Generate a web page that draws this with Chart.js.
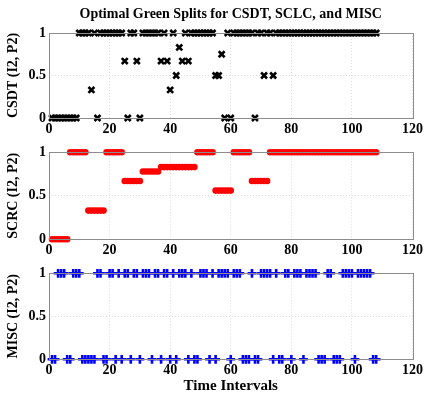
<!DOCTYPE html>
<html>
<head>
<meta charset="utf-8">
<script src="https://cdn.jsdelivr.net/npm/chart.js@4/dist/chart.umd.min.js"></script>
<style>
  html, body { margin: 0; padding: 0; background: #fff; }
  body { width: 426px; height: 397px; position: relative; overflow: hidden; }
  .box { position: absolute; left: 0; width: 426px; }
</style>
</head>
<body>
<div class="box" style="top:0;height:140px"><canvas id="csdtChart"></canvas></div>
<div class="box" style="top:140px;height:120px"><canvas id="scrcChart"></canvas></div>
<div class="box" style="top:260px;height:137px"><canvas id="miscChart"></canvas></div>
<script>
// time intervals 1..108
const intervals = Array.from({ length: 108 }, (_, i) => i + 1);

const csdt = [
  0, 0, 0, 0, 0, 0, 0, 0, 0, 1,
  1, 1, 1, 0.33, 1, 0, 1, 1, 1, 1,
  1, 1, 1, 1, 0.67, 0, 1, 1, 0.67, 0,
  1, 1, 1, 1, 1, 1, 0.67, 1, 0.67, 0.33,
  1, 0.5, 0.83, 0.67, 1, 0.67, 1, 1, 1, 1,
  1, 1, 1, 1, 0.5, 0.5, 0.75, 0, 1, 0,
  1, 1, 1, 1, 1, 1, 1, 0, 1, 1,
  0.5, 1, 1, 0.5, 1, 1, 1, 1, 1, 1,
  1, 1, 1, 1, 1, 1, 1, 1, 1, 1,
  1, 1, 1, 1, 1, 1, 1, 1, 1, 1,
  1, 1, 1, 1, 1, 1, 1, 1
];

const scrc = [
  0, 0, 0, 0, 0, 0, 1, 1, 1, 1,
  1, 1, 0.33, 0.33, 0.33, 0.33, 0.33, 0.33, 1, 1,
  1, 1, 1, 1, 0.67, 0.67, 0.67, 0.67, 0.67, 0.67,
  0.78, 0.78, 0.78, 0.78, 0.78, 0.78, 0.83, 0.83, 0.83, 0.83,
  0.83, 0.83, 0.83, 0.83, 0.83, 0.83, 0.83, 0.83, 1, 1,
  1, 1, 1, 1, 0.56, 0.56, 0.56, 0.56, 0.56, 0.56,
  1, 1, 1, 1, 1, 1, 0.67, 0.67, 0.67, 0.67,
  0.67, 0.67, 1, 1, 1, 1, 1, 1, 1, 1,
  1, 1, 1, 1, 1, 1, 1, 1, 1, 1,
  1, 1, 1, 1, 1, 1, 1, 1, 1, 1,
  1, 1, 1, 1, 1, 1, 1, 1
];

const misc = [
  0, 0, 1, 1, 1, 0, 0, 1, 1, 1,
  0, 0, 0, 0, 0, 1, 1, 0, 0, 1,
  1, 0, 1, 0, 1, 1, 0, 1, 1, 0,
  1, 1, 1, 0, 1, 1, 0, 1, 1, 0,
  1, 0, 1, 1, 1, 0, 1, 0, 0, 1,
  1, 1, 0, 1, 0, 1, 1, 1, 1, 0,
  1, 1, 1, 0, 0, 0, 1, 0, 0, 1,
  1, 1, 1, 0, 1, 0, 0, 1, 1, 0,
  1, 1, 1, 0, 1, 1, 1, 1, 0, 0,
  0, 1, 1, 0, 0, 0, 1, 1, 1, 1,
  0, 1, 1, 1, 1, 1, 0, 0
];

const xTicks = [0, 20, 40, 60, 80, 100, 120];
const yTicks = [0, 0.5, 1];

const serif = 'Liberation Serif';
const tickFont = { family: serif, size: 14, weight: 'bold' };

// matlab style box round the plot area
const boxPlugin = {
  id: 'box',
  afterDraw(chart) {
    const a = chart.chartArea, ctx = chart.ctx;
    ctx.save();
    ctx.strokeStyle = '#8c8c8c';
    ctx.lineWidth = 1;
    ctx.strokeRect(Math.round(a.left) + 0.5, Math.round(a.top) + 0.5,
      Math.round(a.right - a.left), Math.round(a.bottom - a.top));
    ctx.restore();
  }
};

function makeChart(id, values, yLabel, ds, opts) {
  const xScale = {
    type: 'linear', min: 0, max: 120,
    afterBuildTicks: s => { s.ticks = xTicks.map(v => ({ value: v })); },
    afterFit: s => { s.height = opts.xHeight; },
    ticks: { color: '#000', font: tickFont, padding: 3, maxRotation: 0, callback: v => String(v) },
    grid: { color: '#dcdcdc', drawTicks: false },
    border: { display: false, dash: [1, 2] },
    title: opts.xTitle ? {
      display: true, text: opts.xTitle, color: '#000',
      font: { family: serif, size: 15, weight: 'bold' }, padding: { top: 0, bottom: 2 }
    } : { display: false }
  };
  const yScale = {
    min: 0, max: 1,
    afterBuildTicks: s => { s.ticks = yTicks.map(v => ({ value: v })); },
    afterFit: s => { s.width = 49; },
    ticks: { color: '#000', font: tickFont, padding: 3, callback: v => String(v) },
    grid: { color: '#dcdcdc', drawTicks: false },
    border: { display: false, dash: [1, 2] },
    title: {
      display: true, text: yLabel, color: '#000',
      font: { family: serif, size: 14, weight: 'bold' }, padding: { top: 5, bottom: 0 }
    }
  };
  return new Chart(document.getElementById(id), {
    type: 'scatter',
    data: {
      datasets: [Object.assign({
        data: intervals.map((t, i) => ({ x: t, y: values[i] })),
        clip: false
      }, ds)]
    },
    options: {
      responsive: true,
      maintainAspectRatio: false,
      animation: false,
      layout: { autoPadding: false, padding: { top: opts.padTop, right: 10, left: 0, bottom: 0 } },
      scales: { x: xScale, y: yScale },
      plugins: {
        legend: { display: false },
        tooltip: { enabled: false },
        title: opts.title ? {
          display: true, text: opts.title, color: '#000', fullSize: false,
          font: { family: serif, size: 14, weight: 'bold' },
          padding: { top: 6, bottom: 10.2 }
        } : { display: false }
      }
    },
    plugins: [boxPlugin]
  });
}

makeChart('csdtChart', csdt, 'CSDT (I2, P2)', {
  pointStyle: 'crossRot', pointRadius: 4.2, pointBorderWidth: 2.6,
  borderColor: '#000', backgroundColor: '#000'
}, { padTop: 0, xHeight: 22, title: 'Optimal Green Splits for CSDT, SCLC, and MISC' });

makeChart('scrcChart', scrc, 'SCRC (I2, P2)', {
  pointStyle: 'circle', pointRadius: 3.3, pointBorderWidth: 0,
  borderColor: '#ff0000', backgroundColor: '#ff0000'
}, { padTop: 12.3, xHeight: 20.7 });

makeChart('miscChart', misc, 'MISC (I2, P2)', {
  pointStyle: 'cross', pointRadius: 4.4, pointBorderWidth: 2.6,
  borderColor: '#0000ff', backgroundColor: '#0000ff'
}, { padTop: 13.3, xHeight: 37.7, xTitle: 'Time Intervals' });
</script>
</body>
</html>
